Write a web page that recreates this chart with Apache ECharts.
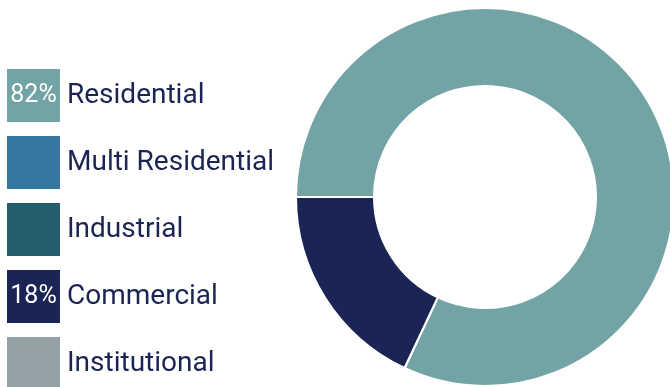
<!DOCTYPE html>
<html>
<head>
<meta charset="utf-8">
<script src="https://cdn.jsdelivr.net/npm/echarts@6/dist/echarts.min.js"></script>
<style>html,body{margin:0;padding:0;background:#fff;}#c{width:670px;height:387px;}</style>
</head>
<body>
<div id="c"></div>
<script>
const categories = ['Residential', 'Multi Residential', 'Industrial', 'Commercial', 'Institutional'];
const values = [82, 0, 0, 18, 0];
const percentLabels = ['82%', '', '', '18%', ''];
const colors = ['#72a4a5', '#3577a1', '#245d6d', '#1b2555', '#93a0a5'];

const rich = {
  n: { fontFamily: 'Roboto', fontSize: 28, color: '#1b2554', padding: [0, 0, 0, 7], height: 53, lineHeight: 53 }
};
categories.forEach((c, i) => {
  rich['b' + i] = {
    backgroundColor: colors[i], width: 53, height: 53, lineHeight: 53, align: 'center',
    fontFamily: 'Roboto', fontSize: 25, color: '#ffffff'
  };
});

const chart = echarts.init(document.getElementById('c'), null, { renderer: 'canvas' });
chart.setOption({
  animation: false,
  color: colors,
  legend: {
    orient: 'vertical',
    left: 1,
    top: 69,
    height: 400,
    itemWidth: 0,
    itemHeight: 0,
    itemGap: 14,
    padding: 0,
    icon: 'rect',
    selectedMode: false,
    data: categories,
    formatter: function (name) {
      const i = categories.indexOf(name);
      return '{b' + i + '|' + (percentLabels[i] || ' ') + '}{n|' + name + '}';
    },
    textStyle: { rich: rich, padding: 0 }
  },
  series: [{
    type: 'pie',
    center: [485, 197],
    radius: [111, 189],
    startAngle: 180,
    clockwise: true,
    silent: true,
    label: { show: false },
    labelLine: { show: false },
    itemStyle: { borderColor: '#ffffff', borderWidth: 2 },
    data: categories.map((c, i) => ({ name: c, value: values[i] }))
  }]
});
</script>
</body>
</html>
